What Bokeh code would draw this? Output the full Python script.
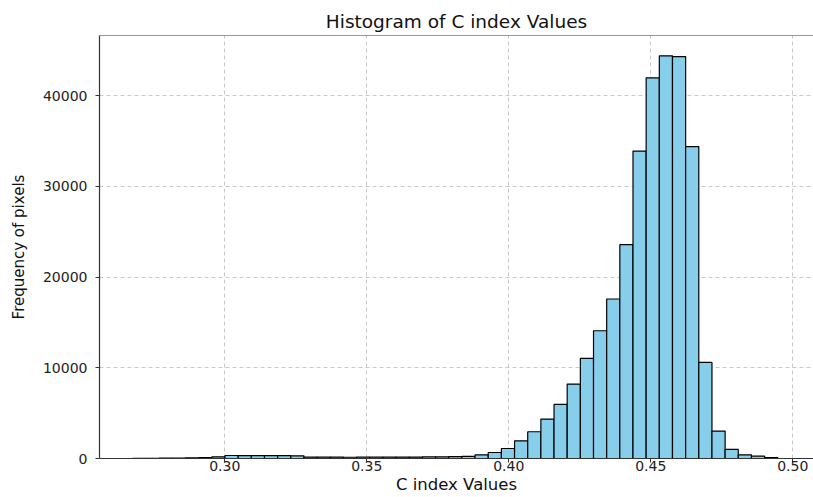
from bokeh.plotting import figure
from bokeh.models import Range1d, FixedTicker, Span, NumeralTickFormatter
from bokeh.embed import file_html
from bokeh.resources import INLINE

# ---- data ----
bin_start = 0.26764
bin_width = 0.004634
counts = [30, 20, 40, 50, 80, 90, 180, 330, 320, 320,
          310, 310, 300, 160, 150, 150, 140, 150, 150, 150,
          160, 160, 170, 180, 200, 230, 410, 660, 1100, 1950,
          2950, 4340, 5960, 8200, 11030, 14080, 17580, 23570, 33880, 41950,
          44380, 44300, 34380, 10590, 3020, 1000, 410, 260, 110, 0]
x_ticks = [0.30, 0.35, 0.40, 0.45, 0.50]
y_ticks = [0, 10000, 20000, 30000, 40000]
title_text = "Histogram of C index Values"
x_label = "C index Values"
y_label = "Frequency of pixels"

lefts = [bin_start + i * bin_width for i in range(len(counts))]
rights = [l + bin_width for l in lefts]

FONT = "DejaVu Sans"
AX = "#333333"
Y_TOP = 46620

p = figure(width=813, height=497, output_backend="svg", toolbar_location=None,
           x_range=Range1d(0.25588, 0.50729), y_range=Range1d(0, Y_TOP),
           min_border_left=99, min_border_right=0, min_border_top=35, min_border_bottom=39)

p.quad(left=lefts, right=rights, bottom=0, top=counts,
       fill_color="#87CEEB", line_color="black", line_width=1.2)

p.outline_line_color = None
p.add_layout(Span(location=Y_TOP, dimension="width", line_color=AX, line_width=1.2))

p.title.text = title_text
p.title.align = "center"
p.title.text_font = FONT
p.title.text_font_size = "18.5px"
p.title.text_font_style = "normal"
p.title.text_color = "#111111"
p.title.standoff = 8
p.title.offset = 8

p.xaxis.ticker = FixedTicker(ticks=x_ticks)
p.xaxis.formatter = NumeralTickFormatter(format="0.00")
p.yaxis.ticker = FixedTicker(ticks=y_ticks)

for ax in (p.xaxis, p.yaxis):
    ax.axis_line_color = AX
    ax.axis_line_width = 1.2
    ax.major_tick_line_color = AX
    ax.major_tick_out = 4
    ax.major_tick_in = 0
    ax.minor_tick_line_color = None
    ax.major_label_text_font = FONT
    ax.major_label_text_font_size = "14px"
    ax.major_label_text_color = "#222222"
    ax.axis_label_text_font = FONT
    ax.axis_label_text_font_style = "normal"
    ax.axis_label_text_color = "#111111"

p.xaxis.axis_label = x_label
p.xaxis.major_label_standoff = -2
p.xaxis.axis_label_text_font_size = "16.5px"
p.xaxis.axis_label_standoff = 1

p.yaxis.axis_label = y_label
p.yaxis.major_label_standoff = 8
p.yaxis.axis_label_text_font_size = "15px"
p.yaxis.axis_label_standoff = 12

for g in (p.xgrid, p.ygrid):
    g.grid_line_color = "#c8c8c8"
    g.grid_line_dash = "4 3"
    g.grid_line_width = 1

p.background_fill_color = "white"
p.border_fill_color = "white"

open("out.html", "w").write(file_html(p, INLINE))
